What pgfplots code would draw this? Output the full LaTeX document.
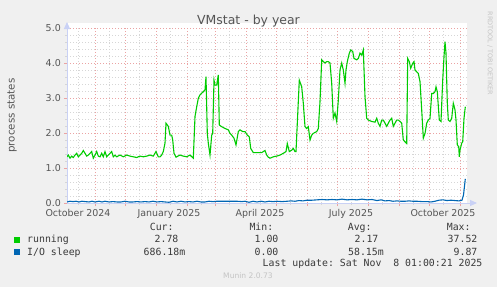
\documentclass[border=0pt]{standalone}
\usepackage{fontspec}
\setmainfont{DejaVu Sans}
\setmonofont{DejaVu Sans Mono}
\usepackage{pgfplots}
\pgfplotsset{compat=1.18}
\usetikzlibrary{arrows.meta}
\definecolor{bgc}{HTML}{F0F0F0}
\definecolor{runc}{HTML}{00CC00}
\definecolor{ioc}{HTML}{0066B3}
\definecolor{mgrid}{HTML}{EBA3A3}
\definecolor{sgrid}{HTML}{D6D6D6}
\definecolor{axc}{HTML}{C9D1F5}
\definecolor{txt}{HTML}{555555}
\definecolor{legc}{HTML}{3A3A3A}
\definecolor{wmc}{HTML}{C4C4C4}
\newcommand{\legfont}{\ttfamily\fontsize{9.9}{11}\selectfont}
\newcommand{\axfont}{\fontsize{9.5}{11}\selectfont}

\pgfplotstableread{
d v
0 1.32
1.3 1.37
3 1.28
4.7 1.34
6.3 1.30
8 1.37
9.7 1.42
11.3 1.32
13 1.37
14.7 1.42
16.3 1.50
18 1.42
19.7 1.34
21.3 1.37
23 1.42
24.7 1.47
26.3 1.28
28 1.37
29.7 1.47
31.3 1.34
33 1.32
34.7 1.42
36.3 1.32
38 1.47
39.7 1.32
41.3 1.37
43 1.42
44.7 1.47
46.3 1.32
48 1.37
49.7 1.32
53 1.37
56.3 1.32
59.7 1.37
63 1.34
66.3 1.32
69.7 1.30
73 1.34
76.3 1.32
79.7 1.34
83 1.37
86.3 1.34
89 1.47
91.3 1.32
93 1.32
94.7 1.37
96.3 1.47
98 1.71
99 2.28
101.3 2.19
103 1.94
104.7 1.94
105.7 1.80
107 1.42
109 1.31
113 1.37
116.3 1.34
119.7 1.32
123 1.37
126.3 1.28
128 2.47
129.7 2.75
131.3 2.99
133 3.09
136.3 3.18
138 3.23
139 3.61
140.3 1.99
141.3 1.71
143 1.37
144.7 1.94
145.7 1.99
147 3.51
148 3.37
149.7 3.37
151.3 3.66
152.3 2.23
154.7 2.18
158 2.13
161.3 2.09
163 1.99
164.7 1.94
167 1.85
169 1.66
171.3 2.04
173 2.09
175.7 2.04
178 2.04
180.3 1.94
182.3 1.89
183.7 1.56
186.3 1.44
189.7 1.44
194.7 1.44
198 1.50
199.7 1.37
201.3 1.31
203 1.28
206.3 1.32
209.7 1.34
213 1.37
216.3 1.42
219 1.47
220.3 1.70
222.3 1.47
224.7 1.51
226.3 1.56
228 1.47
229 1.47
230.3 2.28
232.3 3.51
234.7 3.32
236.3 2.85
238 2.18
239.7 2.13
241.3 2.18
243 1.80
244.7 1.94
246.3 1.99
249.7 2.04
251.3 2.13
253 2.90
254.7 4.09
256.3 4.04
258 4.00
259.7 4.04
261.3 4.04
263 4.00
264.7 3.42
266.3 2.42
268 2.57
269.7 2.33
271.3 2.94
273 3.80
274.7 4.00
276.3 3.80
278 3.42
279 3.80
280.3 4.04
282.3 4.28
283.7 4.37
285.7 4.33
287 4.13
289.7 4.09
291.3 4.13
293 4.28
294.7 4.23
296.3 4.37
298 3.04
299.7 2.42
301.3 2.37
304.7 2.33
308 2.31
309.7 2.42
311.3 2.28
313 2.19
314.7 2.37
316.3 2.37
318 2.28
319.7 2.19
321.3 2.28
323 2.37
324.7 2.42
326.3 2.19
328 2.28
329.7 2.37
331.3 2.37
333 2.33
334.7 2.28
336.3 1.80
338 1.75
339.7 1.70
340.7 4.13
342.3 4.04
343.7 3.85
345.7 3.99
347 4.04
348 3.80
349.7 3.75
351.3 3.70
353 3.47
354.7 2.66
356.3 1.85
358 1.99
359.7 2.28
361.3 2.37
363 2.42
364.7 3.13
366.3 3.13
368 3.18
369 3.32
370.3 3.18
372.3 2.37
374 2.33
375.7 3.51
377 4.18
378 4.61
379 4.28
380.3 2.85
381.3 2.37
383 2.33
384.7 2.42
386.3 2.85
388 2.66
389 2.37
390.3 1.66
391.7 1.61
392.3 1.32
393 1.51
394.7 1.71
395.7 1.75
397 2.42
398.3 2.75
}\running

\pgfplotstableread{
d v
0 0.03
3 0.05
6 0.04
9 0.05
12 0.03
15 0.05
18 0.04
22 0.03
25 0.05
28 0.03
32 0.05
35 0.03
38 0.05
42 0.03
46 0.04
50 0.03
54 0.03
58 0.05
62 0.03
66 0.03
70 0.04
74 0.03
78 0.04
82 0.03
86 0.05
90 0.03
94 0.04
98 0.03
102 0.02
106 0.05
110 0.03
114 0.05
118 0.03
122 0.04
126 0.03
130 0.05
134 0.03
138 0.03
142 0.05
146 0.04
150 0.05
160 0.05
170 0.05
175 0.04
178 0.05
182 0.02
186 0.05
190 0.03
194 0.05
198 0.03
202 0.05
206 0.04
210 0.05
215 0.04
220 0.05
224 0.06
228 0.05
232 0.07
236 0.06
240 0.08
245 0.08
250 0.09
255 0.10
260 0.09
265 0.10
270 0.09
275 0.11
280 0.09
285 0.10
290 0.09
295 0.11
300 0.09
305 0.10
310 0.07
314 0.09
318 0.06
322 0.07
326 0.05
330 0.06
334 0.05
338 0.05
342 0.06
346 0.05
350 0.05
355 0.04
360 0.04
364 0.03
368 0.05
372 0.08
376 0.09
380 0.07
384 0.08
388 0.07
392 0.06
395 0.08
396.5 0.23
398.3 0.69
}\iosleep

\begin{document}
\begin{tikzpicture}[x=1bp,y=1bp]
\fill[bgc] (0,0) rectangle (497,287);
\fill[white] (67,84) rectangle (467,264);
\begin{axis}[
  at={(67bp,84bp)}, anchor=south west,
  scale only axis, width=400bp, height=175bp,
  xmin=0, xmax=400, ymin=0, ymax=5,
  axis x line=bottom, axis y line=left,
  x axis line style={axc, line width=1bp, -{Triangle[length=7bp,width=6bp]}, shorten >=-10bp},
  y axis line style={axc, line width=1bp, -{Triangle[length=7bp,width=6bp]}, shorten >=-6bp},
  xtick={28,58,89,120,148,179,209,240,270,301,332,362,393},
  xticklabels={},
  minor xtick={11,42,72,103,134,162,193,223,254,284,315,346,376},
  ytick={0,1,2,3,4,5},
  minor ytick={0.2,0.4,0.6,0.8,1.2,1.4,1.6,1.8,2.2,2.4,2.6,2.8,3.2,3.4,3.6,3.8,4.2,4.4,4.6,4.8},
  grid=both,
  major grid style={mgrid, dash pattern=on 1bp off 2bp, line width=0.8bp},
  minor grid style={sgrid, dash pattern=on 1bp off 2bp, line width=0.8bp},
  tick align=outside,
  major tick length=3bp, minor tick length=2bp,
  major tick style={mgrid, line width=0.8bp},
  minor tick style={sgrid, line width=0.8bp},
  yticklabel style={font=\axfont, text=txt, inner sep=0pt, anchor=east, xshift=-3bp},
  /pgf/number format/.cd, fixed, fixed zerofill, precision=1, assume math mode=true,
]
\addplot[ioc, line width=1.1bp, sharp plot] table[x=d,y=v]{\iosleep};
\addplot[runc, line width=1.1bp, sharp plot] table[x=d,y=v]{\running};
\end{axis}
% x tick labels
\foreach \xx/\lab in {78/October 2024,169/January 2025,260/April 2025,351/July 2025,443/October 2025}
  \node[font=\axfont, text=txt, anchor=base, inner sep=0pt] at (\xx,71) {\lab};
% y label
\node[font=\fontsize{10.3}{12}\selectfont, text=txt, rotate=90, inner sep=0pt] at (12,171.5) {process states};
% title
\node[font=\fontsize{12.5}{14}\selectfont, text=txt, anchor=base, inner sep=0pt] at (248.5,262.3) {VMstat - by year};
% watermark
\node[font=\fontsize{6.5}{8}\selectfont, text=wmc, rotate=-90, inner sep=0pt] at (490,233.5) {RRDTOOL / TOBI OETIKER};
% legend
\fill[runc] (14,44.3) rectangle (20,50.3);
\fill[ioc] (14,32) rectangle (20,38);
\begin{scope}[every node/.style={font=\legfont, text=legc, inner sep=0pt}]
\node[anchor=base west] at (27,44.5) {running};
\node[anchor=base west] at (27,31.7) {I/O sleep};
\node[anchor=base east] at (173.8,56.1) {Cur:};
\node[anchor=base east] at (273.5,56.1) {Min:};
\node[anchor=base east] at (371.8,56.1) {Avg:};
\node[anchor=base east] at (470.8,56.1) {Max:};
\node[anchor=base east] at (178.6,44.5) {2.78};
\node[anchor=base east] at (278.6,44.5) {1.00};
\node[anchor=base east] at (378.6,44.5) {2.17};
\node[anchor=base east] at (477.6,44.5) {37.52};
\node[anchor=base east] at (185.5,31.7) {686.18m};
\node[anchor=base east] at (278.6,31.7) {0.00};
\node[anchor=base east] at (384,31.7) {58.15m};
\node[anchor=base east] at (477.6,31.7) {9.87};
\node[anchor=base east] at (482.6,20.1) {Last update: Sat Nov~~8 01:00:21 2025};
\end{scope}
\node[font=\fontsize{7.6}{9}\selectfont, text=wmc, anchor=base, inner sep=0pt] at (248,8.3) {Munin 2.0.73};
\end{tikzpicture}
\end{document}
